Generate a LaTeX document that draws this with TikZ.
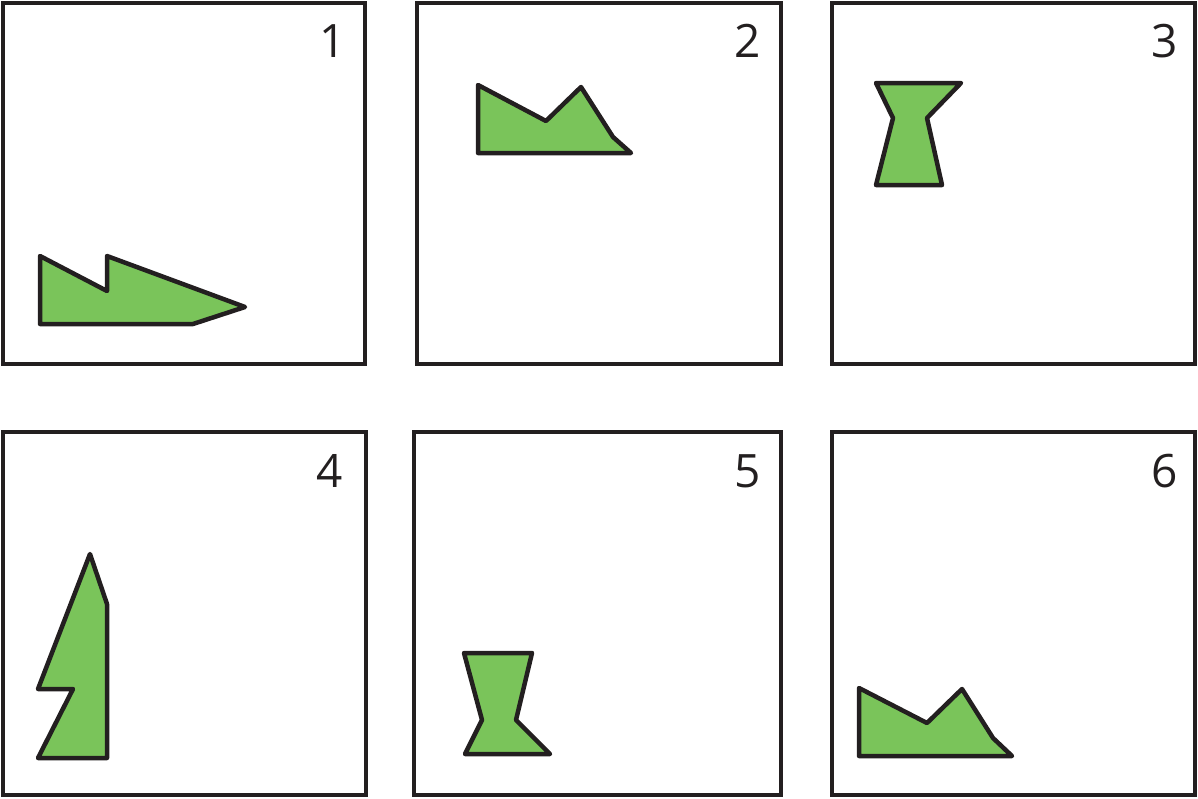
\documentclass[tikz,border=0pt]{standalone}
\usepackage{fontspec}
\setmainfont{Open Sans}
\definecolor{shapegreen}{RGB}{122,196,90}
\definecolor{ink}{RGB}{35,31,32}
\begin{document}
\begin{tikzpicture}[x=1pt,y=-1pt,
  panel/.style={draw=ink,line width=3.5pt,inner sep=0pt,outer sep=0pt,anchor=north west},
  poly/.style={draw=ink,fill=shapegreen,line width=4.5pt,line join=round},
  lbl/.style={font=\fontsize{46}{46}\selectfont,text=ink,inner sep=0pt}]
\useasboundingbox (0,0) rectangle (1198,798);
% panels
\node[panel,minimum width=362pt,minimum height=361pt] (p1) at (3,3) {};
\node[panel,minimum width=364pt,minimum height=361pt] (p2) at (417,3) {};
\node[panel,minimum width=363pt,minimum height=361pt] (p3) at (832,3) {};
\node[panel,minimum width=363pt,minimum height=363pt] (p4) at (3,432) {};
\node[panel,minimum width=367pt,minimum height=363pt] (p5) at (414,432) {};
\node[panel,minimum width=363pt,minimum height=363pt] (p6) at (832,432) {};
% labels
\node[lbl] (l1) at (333,41) {1};
\node[lbl] (l2) at (748,41) {2};
\node[lbl] (l3) at (1165,41) {3};
\node[lbl] (l4) at (330,471) {4};
\node[lbl] (l5) at (748,471) {5};
\node[lbl] (l6) at (1165,471) {6};
% shapes
\draw[poly] (40,256) -- (107,291) -- (107,256) -- (245,307) -- (193,324) -- (40,324) -- cycle;
\draw[poly] (478,85) -- (546,121) -- (581,87) -- (613,137) -- (631,153) -- (478,153) -- cycle;
\draw[poly] (876,83) -- (961,83) -- (927,118) -- (942,185) -- (876,185) -- (893,118) -- cycle;
\draw[poly] (90,554) -- (107,604) -- (107,758) -- (38,758) -- (73,689) -- (38,689) -- cycle;
\draw[poly] (464,653) -- (532,653) -- (516,720) -- (550,754) -- (465,754) -- (482,720) -- cycle;
\draw[poly] (859,688) -- (927,723) -- (962,689) -- (993,738) -- (1012,756) -- (859,756) -- cycle;
\end{tikzpicture}
\end{document}
